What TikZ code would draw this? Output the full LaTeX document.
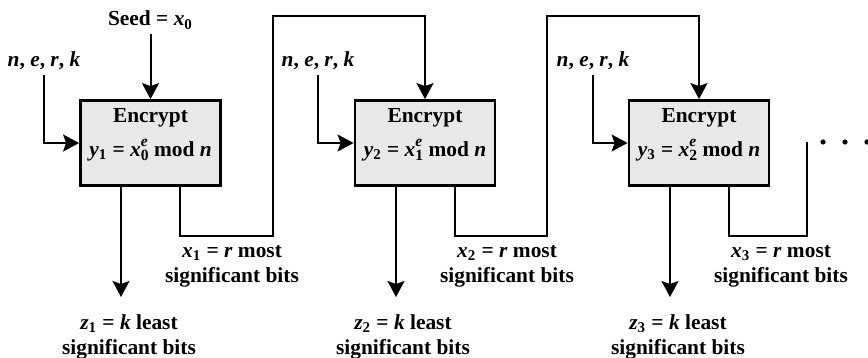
\documentclass[tikz,border=0pt]{standalone}
\usepackage{amsmath}
\usepackage{fontspec}
\setmainfont{Liberation Serif}
\usetikzlibrary{arrows.meta}

\newcommand{\vb}[1]{\textbf{\textit{#1}}}
\newcommand{\ix}[1]{$_{\text{#1}}$}
\newcommand{\xpow}[1]{\vb{x}\rlap{\raisebox{0.95ex}{\fontsize{7.8}{8}\selectfont\itshape e}}\raisebox{-0.45ex}{\fontsize{7.8}{8}\selectfont #1}}

\begin{document}
\begin{tikzpicture}[x=0.5pt, y=-0.5pt, line width=1pt,
  font=\bfseries\fontsize{10.7}{12.5}\selectfont,
  encbox/.style={draw, line width=1.4pt, fill=black!9, minimum width=70pt, minimum height=42.5pt, inner sep=0pt},
  arr/.style={-{Stealth[length=8pt, width=8.5pt, inset=1.5pt]}},
  txt/.style={anchor=base, inner sep=2pt},
  bits/.style={align=center, inner sep=1pt}]
  \useasboundingbox (0,0) rectangle (868,358);
  % first stage
  \node[encbox] (enc1) at (150.5,143) {};
  \node[txt] (enc1t) at (150.5,123) {Encrypt};
  \node[txt] (enc1f) at (150.5,156) {\vb{y}\ix{1} = \xpow{0} mod \vb{n}};
  \node[txt] (seed) at (150.5,26) {Seed = \vb{x}\ix{0}};
  \node[txt] (key1) at (44,67) {\vb{n}, \vb{e}, \vb{r}, \vb{k}};
  \node[bits] (msb1) at (232,266) {\vb{x}\ix{1} = \vb{r} most\\significant bits};
  \node[bits] (lsb1) at (129,337) {\vb{z}\ix{1} = \vb{k} least\\significant bits};
  \coordinate (out1) at (121,297);
  \draw[arr] (seed) -- (enc1.north);
  \draw[arr] (key1.south) |- (enc1.west);
  \draw[arr] (enc1.south -| out1) -- (out1);
  % second stage
  \node[encbox] (enc2) at (425,143) {};
  \node[txt] (enc2t) at (425,123) {Encrypt};
  \node[txt] (enc2f) at (425,156) {\vb{y}\ix{2} = \xpow{1} mod \vb{n}};
  \node[txt] (key2) at (318,67) {\vb{n}, \vb{e}, \vb{r}, \vb{k}};
  \node[bits] (msb2) at (507,266) {\vb{x}\ix{2} = \vb{r} most\\significant bits};
  \node[bits] (lsb2) at (403,337) {\vb{z}\ix{2} = \vb{k} least\\significant bits};
  \coordinate (out2) at (396,297);
  \draw[arr] (enc1.south) ++(29.5,0) |- (273,236) -- (273,16) -| (enc2.north);
  \draw[arr] (key2.south) |- (enc2.west);
  \draw[arr] (enc2.south -| out2) -- (out2);
  % third stage
  \node[encbox] (enc3) at (699,143) {};
  \node[txt] (enc3t) at (699,123) {Encrypt};
  \node[txt] (enc3f) at (699,156) {\vb{y}\ix{3} = \xpow{2} mod \vb{n}};
  \node[txt] (key3) at (593,67) {\vb{n}, \vb{e}, \vb{r}, \vb{k}};
  \node[bits] (msb3) at (781,266) {\vb{x}\ix{3} = \vb{r} most\\significant bits};
  \node[bits] (lsb3) at (678,337) {\vb{z}\ix{3} = \vb{k} least\\significant bits};
  \coordinate (out3) at (670,297);
  \draw[arr] (enc2.south) ++(30,0) |- (547,236) -- (547,16) -| (enc3.north);
  \draw[arr] (key3.south) |- (enc3.west);
  \draw[arr] (enc3.south -| out3) -- (out3);
  \draw (enc3.south) ++(30,0) |- (807,236) -- (807,142);
  \fill (823,142) circle (2.6) (845,142) circle (2.6) (867,142) circle (2.6);
\end{tikzpicture}
\end{document}
